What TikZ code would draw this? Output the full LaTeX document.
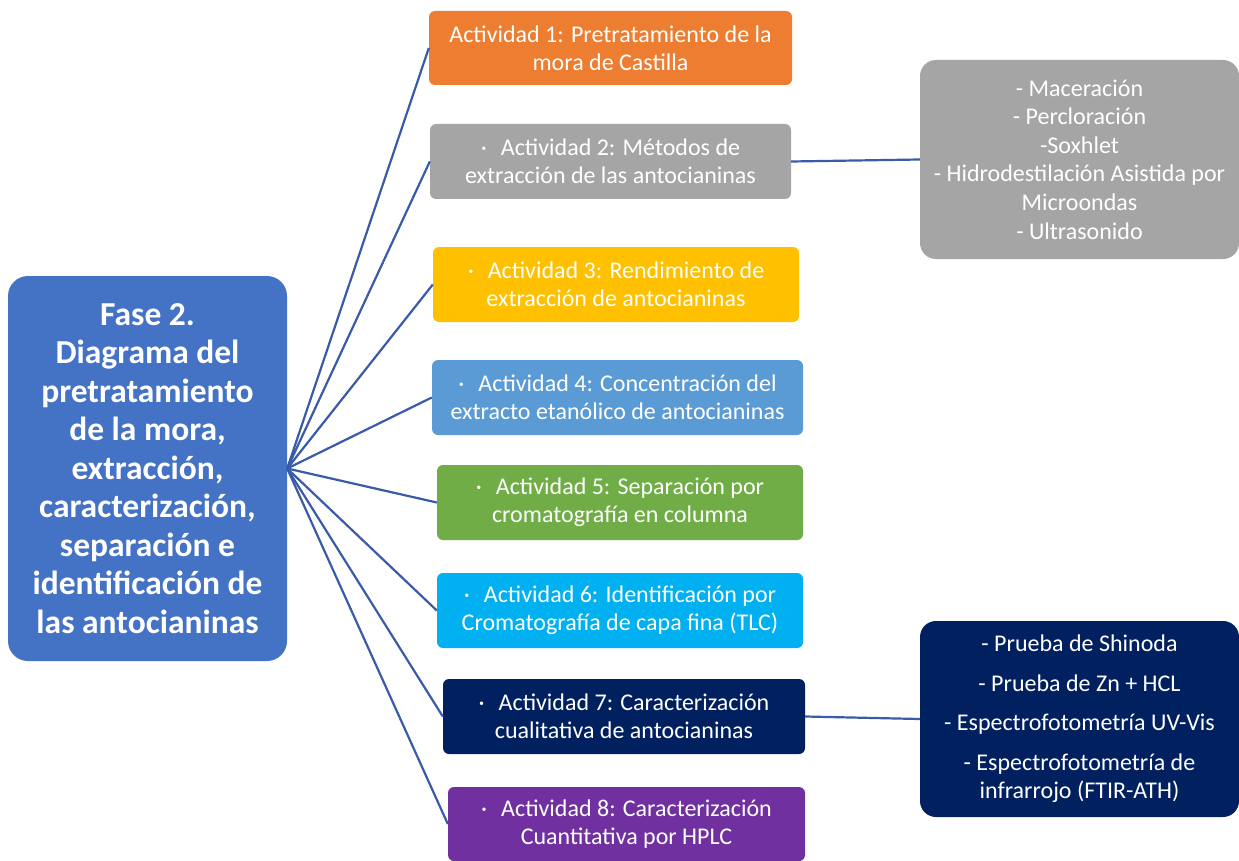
\documentclass[tikz,border=0pt]{standalone}
\usepackage{fontspec}
\setmainfont{Carlito}
\definecolor{cmain}{HTML}{4472C4}
\definecolor{corange}{HTML}{ED7D31}
\definecolor{cgray}{HTML}{A5A5A5}
\definecolor{cyellow}{HTML}{FFC000}
\definecolor{clblue}{HTML}{5B9BD5}
\definecolor{cgreen}{HTML}{70AD47}
\definecolor{ccyan}{HTML}{00B0F0}
\definecolor{cnavy}{HTML}{002060}
\definecolor{cpurple}{HTML}{7030A0}
\definecolor{cline}{HTML}{3A5BA8}
\newcommand{\bul}{·\hspace{14pt}}
\begin{document}
\begin{tikzpicture}[x=1pt,y=-1pt,
  act/.style={rounded corners=6pt, text=white, align=center, inner sep=0pt,
    font=\fontsize{24}{28}\selectfont},
  mainbox/.style={rounded corners=20pt, fill=cmain, text=white, align=center, inner sep=0pt,
    font=\fontsize{33.5}{38.5}\selectfont\bfseries},
  side/.style={rounded corners=16pt, text=white, align=center, inner sep=0pt,
    font=\fontsize{24}{28.6}\selectfont},
  conn/.style={draw=cline, line width=2.2pt}]
\useasboundingbox (0,0) rectangle (1239,861);
\fill[white] (0,0) rectangle (1239,861);
\node[mainbox, minimum width=279pt, minimum height=385pt] (main) at (147.5,468.5)
 {Fase 2.\\Diagrama del\\pretratamiento\\ de la mora,\\extracción,\\caracterización,\\separación e\\identificación de\\las antocianinas};
\node[act, fill=corange, minimum width=363pt, minimum height=74pt] (a1) at (610.5,48)
 {Actividad 1: Pretratamiento de la\\mora de Castilla};
\node[act, fill=cgray, minimum width=361pt, minimum height=75pt] (a2) at (610.5,161.5)
 {\bul Actividad 2: Métodos de\\extracción de las antocianinas};
\node[act, fill=cyellow, minimum width=366pt, minimum height=75pt] (a3) at (616,284.5)
 {\bul Actividad 3: Rendimiento de\\extracción de antocianinas};
\node[act, fill=clblue, minimum width=371pt, minimum height=75pt] (a4) at (617.5,397.5)
 {\bul Actividad 4: Concentración del\\extracto etanólico de antocianinas};
\node[act, fill=cgreen, minimum width=366pt, minimum height=75pt] (a5) at (620,502.5)
 {\bul Actividad 5: Separación por\\cromatografía en columna};
\node[act, fill=ccyan, minimum width=366pt, minimum height=75pt] (a6) at (620,610.5)
 {\bul Actividad 6: Identificación por\\Cromatografía de capa fina (TLC)};
\node[act, fill=cnavy, minimum width=362pt, minimum height=75pt] (a7) at (624,716.5)
 {\bul Actividad 7: Caracterización\\cualitativa de antocianinas};
\node[act, fill=cpurple, minimum width=357pt, minimum height=74pt] (a8) at (626.5,824)
 {\bul Actividad 8: Caracterización\\Cuantitativa por HPLC};
\node[side, fill=cgray, minimum width=319pt, minimum height=199pt] (r1) at (1079.5,159.5)
 {- Maceración\\- Percloración\\-Soxhlet\\- Hidrodestilación Asistida por\\Microondas\\- Ultrasonido};
\node[side, fill=cnavy, minimum width=319pt, minimum height=196pt] (r2) at (1079.5,719)
 {- Prueba de Shinoda\\[11pt]- Prueba de Zn + HCL\\[11pt]- Espectrofotometría UV-Vis\\[11pt]- Espectrofotometría de\\infrarrojo (FTIR-ATH)};
\foreach \n in {a1,a2,a3,a4,a5,a6,a7,a8}{\draw[conn] (main.east) -- (\n.west);}
\draw[conn] (a2.east) -- (r1.west);
\draw[conn] (a7.east) -- (r2.west);
\end{tikzpicture}
\end{document}
